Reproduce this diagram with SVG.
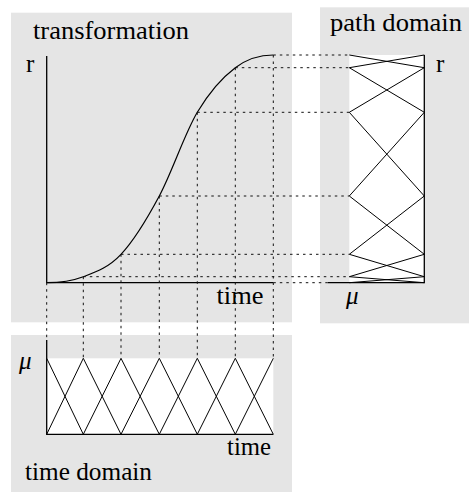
<svg xmlns="http://www.w3.org/2000/svg" width="469" height="492" viewBox="0 0 469 492">
<style>
.panel{fill:#e5e5e5;stroke:none}
.white{fill:#ffffff;stroke:none}
.axis{fill:none;stroke:#000;stroke-width:1.3}
.mf{fill:none;stroke:#000;stroke-width:1;stroke-linejoin:miter}
.dot{fill:none;stroke:#111;stroke-width:1;stroke-dasharray:2.5 4}
.curve{fill:none;stroke:#000;stroke-width:1.2}
.lbl{font-family:'Liberation Serif','Times New Roman',Times,serif;font-size:25px;fill:#000}
.mu{font-style:italic}
</style>
<g id="panel-transformation">
<rect class="panel" x="11" y="12.7" width="281" height="309.6"/>
<text class="lbl" x="33" y="38.5" textLength="156" lengthAdjust="spacingAndGlyphs">transformation</text>
<text class="lbl" x="26" y="71.5">r</text>
<text class="lbl" x="216.5" y="303.5" textLength="47" lengthAdjust="spacingAndGlyphs">time</text>
<path class="axis" d="M46.7,56 V282.7 H273.3"/>
<path class="curve" d="M46.7,282.7 C58.9,282.7 70.9,281.4 83.3,276.7 C95.7,272 108.3,267.75 121,254.3 C133.7,240.85 146.6,219.7 159.3,196 C172,172.3 184.6,133.7 197.3,112.3 C210,90.9 222.6,77.25 235.3,67.7 C248,58.15 260.6,55 273.3,55"/>
</g>
<g id="panel-path-domain">
<rect class="panel" x="320" y="7.3" width="149" height="316"/>
<text class="lbl" x="330" y="31" textLength="132" lengthAdjust="spacingAndGlyphs">path domain</text>
<text class="lbl" x="436" y="71.5">r</text>
<text class="lbl mu" x="346" y="304">μ</text>
<rect class="white" x="349.3" y="55" width="75" height="227.7"/>
<polyline class="mf" points="349.3,282.7 424.3,276.7 349.3,254.3 424.3,196 349.3,112.3 424.3,67.7 349.3,55"/>
<polyline class="mf" points="424.3,282.7 349.3,276.7 424.3,254.3 349.3,196 424.3,112.3 349.3,67.7 424.3,55"/>
<path class="axis" d="M424.3,55 V282.7 H327.7"/>
</g>
<g id="panel-time-domain">
<rect class="panel" x="11" y="335" width="281" height="157"/>
<text class="lbl mu" x="19" y="369">μ</text>
<text class="lbl" x="227" y="455" textLength="44" lengthAdjust="spacingAndGlyphs">time</text>
<text class="lbl" x="25" y="480" textLength="127" lengthAdjust="spacingAndGlyphs">time domain</text>
<rect class="white" x="46.7" y="358.3" width="226.6" height="76"/>
<polyline class="mf" points="46.7,358.3 83.3,434.3 121,358.3 159.3,434.3 197.3,358.3 235.3,434.3 273.3,358.3"/>
<polyline class="mf" points="46.7,434.3 83.3,358.3 121,434.3 159.3,358.3 197.3,434.3 235.3,358.3 273.3,434.3"/>
<path class="axis" d="M46.7,340 V434.3 H273.3"/>
</g>
<g id="connectors">
<path class="dot" d="M273.3,55 H349.3 M235.3,67.7 H349.3 M197.3,112.3 H349.3 M159.3,196 H349.3 M121,254.3 H349.3 M83.3,276.7 H349.3 M273.3,282.7 H327.7"/>
<path class="dot" d="M46.7,282.7 V340 M83.3,276.7 V358.3 M121,254.3 V358.3 M159.3,196 V358.3 M197.3,112.3 V358.3 M235.3,67.7 V358.3 M273.3,55 V358.3"/>
</g>
</svg>
